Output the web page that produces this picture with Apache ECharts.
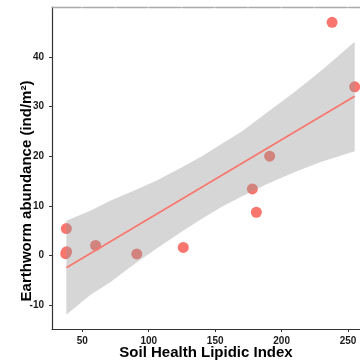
<!DOCTYPE html>
<html>
<head>
<meta charset="utf-8">
<script src="https://cdn.jsdelivr.net/npm/echarts@6/dist/echarts.min.js"></script>
<style>
html,body{margin:0;padding:0;background:#fff;}
#main{width:360px;height:363px;}
</style>
</head>
<body>
<div id="main"></div>
<script>
// points
var lipidIndex=[37.5, 38.2, 38, 60, 91, 126, 178, 181, 191, 238, 255];
var earthworm=[0.35, 0.75, 5.4, 2.0, 0.3, 1.6, 13.4, 8.7, 20.0, 47.0, 34.0];
// fitted line ends
var fitX=[38, 255];
var fitY=[-2.5, 32.1];
// 95% band
var ciX=[38, 56, 71, 90, 106, 125, 140, 155, 170, 189, 210, 230, 255];
var ciUpper=[7.0, 9.0, 11.0, 13.2, 15.1, 17.8, 20.0, 22.5, 25.0, 28.8, 33.0, 37.3, 43.1];
var ciLower=[-12.0, -8.0, -5.4, -1.6, 1.4, 4.8, 7.4, 9.8, 11.9, 14.4, 16.8, 18.9, 21.0];
// ticks
var xTicks=[50, 100, 150, 200, 250];
var yTicks=[-10, 0, 10, 20, 30, 40];

var pointData=[];
for(var i=0;i<lipidIndex.length;i++){
	pointData.push([lipidIndex[i], earthworm[i]]);
}
var fitData=[];
for(var i=0;i<fitX.length;i++){
	fitData.push([fitX[i], fitY[i]]);
}

var font='"Liberation Sans", Arial, sans-serif';
var labelStyle={fontFamily:font,fontWeight:'bold',fontSize:10,color:'#1a1a1a'};

var chart=echarts.init(document.getElementById('main'));
var option={
	animation:false,
	grid:{left:52,top:7,right:0,bottom:34,outerBoundsMode:'none',containLabel:false},
	xAxis:[{
		type:'value',
		min:27.2,
		max:259,
		name:'Soil Health Lipidic Index',
		nameLocation:'middle',
		nameGap:16,
		nameMoveOverlap:false,
		nameTextStyle:{fontFamily:font,fontWeight:'bold',fontSize:15,color:'#000'},
		axisLine:{show:true,onZero:false,lineStyle:{color:'#333',width:1.2}},
		axisTick:{show:true,length:3,lineStyle:{color:'#333'},customValues:xTicks},
		axisLabel:Object.assign({margin:7,customValues:xTicks},labelStyle),
		splitLine:{show:false}
	},{
		// light grey strip on top
		type:'value',
		position:'top',
		min:27.2,
		max:259,
		axisLine:{show:true,onZero:false,lineStyle:{color:'#aaaaaa',width:1.3,type:[31.7,1.5],dashOffset:2.45}},
		axisTick:{show:false},
		axisLabel:{show:false},
		splitLine:{show:false}
	}],
	yAxis:{
		type:'value',
		min:-14.85,
		max:50.1,
		name:'Earthworm abundance (ind/m²)',
		nameLocation:'middle',
		nameGap:18,
		nameMoveOverlap:false,
		// title sits a bit below the panel middle in the original
		nameTextStyle:{fontFamily:font,fontWeight:'bold',fontSize:15,color:'#000',padding:[0,46,0,0]},
		axisLine:{show:true,onZero:false,lineStyle:{color:'#333',width:1.2}},
		axisTick:{show:true,length:3,lineStyle:{color:'#333'},customValues:yTicks},
		axisLabel:Object.assign({margin:8,customValues:yTicks},labelStyle),
		splitLine:{show:false}
	},
	series:[{
		type:'scatter',
		data:pointData,
		symbolSize:11,
		z:2,
		itemStyle:{color:'#F8766D',opacity:1},
		silent:true
	},{
		type:'custom',
		z:3,
		silent:true,
		data:[[ciX[0], ciUpper[0]]],
		renderItem:function(params,api){
			var pts=[];
			for(var i=0;i<ciX.length;i++){
				pts.push(api.coord([ciX[i], ciUpper[i]]));
			}
			for(var j=ciX.length-1;j>=0;j--){
				pts.push(api.coord([ciX[j], ciLower[j]]));
			}
			return {type:'polygon',shape:{points:pts},style:{fill:'rgba(153,153,153,0.4)'}};
		}
	},{
		type:'line',
		data:fitData,
		z:4,
		symbol:'none',
		lineStyle:{color:'#F8766D',width:1.6},
		silent:true
	}]
};
chart.setOption(option);
</script>
</body>
</html>
